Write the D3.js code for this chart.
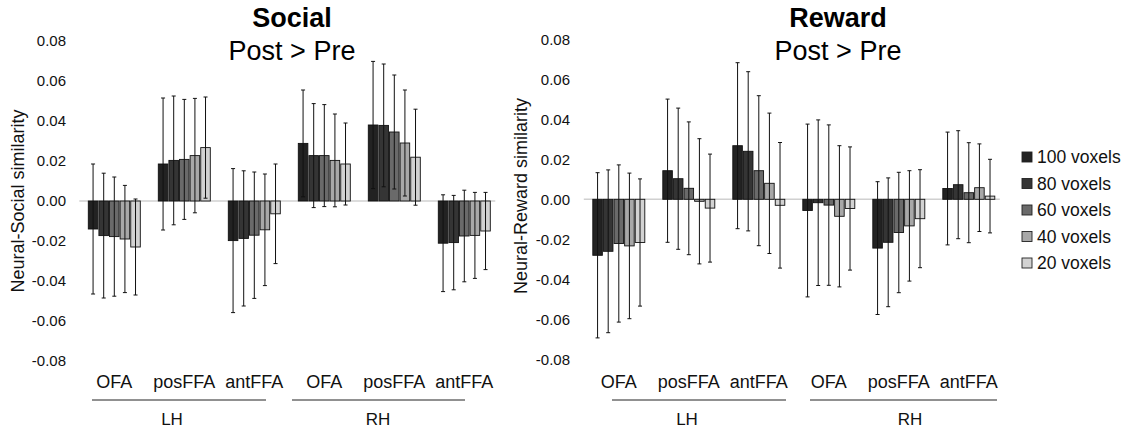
<!DOCTYPE html>
<html>
<head>
<meta charset="utf-8">
<script src="https://cdn.jsdelivr.net/npm/d3@7"></script>
<style>
  html, body { margin: 0; padding: 0; background: #fff; }
  svg { display: block; font-family: "Liberation Sans", Arial, Helvetica, sans-serif; }
</style>
</head>
<body>
<svg id="chart" width="1131" height="431"></svg>
<script>
// ROI labels along the x axis, grouped by hemisphere
const regions = ["OFA", "posFFA", "antFFA", "OFA", "posFFA", "antFFA"];
const hemispheres = ["LH", "RH"];
const seriesNames = ["100 voxels", "80 voxels", "60 voxels", "40 voxels", "20 voxels"];
const seriesColors = ["#222222", "#353535", "#6a6a6a", "#a8a8a8", "#d2d2d2"];
const yTicks = [0.08, 0.06, 0.04, 0.02, 0.00, -0.02, -0.04, -0.06, -0.08];

// Post > Pre change in neural-social similarity (rows: voxel count, cols: ROI)
const socialMeans = [
  [-0.0140, 0.0185, -0.0198, 0.0288, 0.0380, -0.0211],
  [-0.0173, 0.0203, -0.0187, 0.0227, 0.0378, -0.0208],
  [-0.0178, 0.0208, -0.0171, 0.0227, 0.0345, -0.0175],
  [-0.0190, 0.0227, -0.0144, 0.0203, 0.0290, -0.0172],
  [-0.0230, 0.0267, -0.0064, 0.0185, 0.0219, -0.0150]
];
const socialErrors = [
  [0.0325, 0.0330, 0.0360, 0.0267, 0.0318, 0.0242],
  [0.0312, 0.0322, 0.0338, 0.0260, 0.0307, 0.0236],
  [0.0298, 0.0300, 0.0316, 0.0255, 0.0285, 0.0229],
  [0.0268, 0.0286, 0.0279, 0.0232, 0.0265, 0.0215],
  [0.0240, 0.0253, 0.0249, 0.0205, 0.0240, 0.0193]
];

// Post > Pre change in neural-reward similarity
const rewardMeans = [
  [-0.0280, 0.0143, 0.0268, -0.0056, -0.0244, 0.0054],
  [-0.0260, 0.0103, 0.0240, -0.0017, -0.0215, 0.0073],
  [-0.0221, 0.0055, 0.0143, -0.0029, -0.0166, 0.0033],
  [-0.0233, -0.0010, 0.0080, -0.0085, -0.0133, 0.0058],
  [-0.0216, -0.0044, -0.0030, -0.0046, -0.0097, 0.0016]
];
const rewardErrors = [
  [0.0413, 0.0358, 0.0415, 0.0432, 0.0332, 0.0282],
  [0.0407, 0.0353, 0.0398, 0.0414, 0.0322, 0.0270],
  [0.0393, 0.0332, 0.0375, 0.0401, 0.0301, 0.0250],
  [0.0364, 0.0313, 0.0351, 0.0353, 0.0276, 0.0219],
  [0.0318, 0.0270, 0.0314, 0.0308, 0.0245, 0.0184]
];

const svg = d3.select("#chart");
const fmt = d => d.toFixed(2);

// Panel geometry
const panels = [
  {
    title: "Social", subtitle: "Post > Pre", yLabel: "Neural-Social similarity",
    means: socialMeans, errors: socialErrors,
    x0: 79.3, x1: 499.3, yTop: 41, yBottom: 361,
    axisX: 66, yLabelX: 17.5, yLabelY: 201, titleX: 292,
    brackets: [{ from: 92, to: 266, labelX: 172 }, { from: 292, to: 465, labelX: 378 }]
  },
  {
    title: "Reward", subtitle: "Post > Pre", yLabel: "Neural-Reward similarity",
    means: rewardMeans, errors: rewardErrors,
    x0: 583.8, x1: 1003.8, yTop: 39.3, yBottom: 359.3,
    axisX: 570, yLabelX: 521, yLabelY: 196, titleX: 838,
    brackets: [{ from: 612, to: 786, labelX: 687 }, { from: 810, to: 997, labelX: 910 }]
  }
];

panels.forEach(p => {
  const g = svg.append("g");
  const idx = d3.range(regions.length);

  const x = d3.scaleBand().domain(idx).range([p.x0, p.x1]).padding(0);
  const xInner = d3.scaleBand().domain(d3.range(seriesNames.length))
    .range([9, x.bandwidth() - 9]).paddingInner(0.1);
  const y = d3.scaleLinear().domain([-0.08, 0.08]).range([p.yBottom, p.yTop]);

  // y axis: labels only
  const yAxis = g.append("g")
    .attr("transform", `translate(${p.axisX},0)`)
    .call(d3.axisLeft(y).tickValues(yTicks).tickFormat(fmt).tickSize(0).tickPadding(0));
  yAxis.select(".domain").remove();
  yAxis.selectAll("text")
    .attr("font-size", 15).attr("fill", "#111")
    .attr("font-family", "Liberation Sans, Arial, sans-serif");

  // zero reference line
  g.append("line")
    .attr("x1", p.x0).attr("x2", p.x1 - 4)
    .attr("y1", y(0)).attr("y2", y(0))
    .attr("stroke", "#d0d0d0").attr("stroke-width", 1.5);

  // bars
  const rows = [];
  p.means.forEach((row, s) => row.forEach((v, r) => rows.push({ s, r, v, e: p.errors[s][r] })));

  g.append("g").selectAll("rect").data(rows).join("rect")
    .attr("x", d => x(d.r) + xInner(d.s))
    .attr("width", xInner.bandwidth())
    .attr("y", d => y(Math.max(0, d.v)))
    .attr("height", d => Math.abs(y(d.v) - y(0)))
    .attr("fill", d => seriesColors[d.s])
    .attr("stroke", "#111").attr("stroke-width", 0.9);

  // error bars
  const eb = g.append("g").attr("stroke", "#111").attr("stroke-width", 1);
  const cx = d => x(d.r) + xInner(d.s) + xInner.bandwidth() / 2;
  eb.selectAll("line.v").data(rows).join("line").attr("class", "v")
    .attr("x1", cx).attr("x2", cx)
    .attr("y1", d => y(d.v + d.e)).attr("y2", d => y(d.v - d.e));
  eb.selectAll("line.t").data(rows).join("line").attr("class", "t")
    .attr("x1", d => cx(d) - 2).attr("x2", d => cx(d) + 2)
    .attr("y1", d => y(d.v + d.e)).attr("y2", d => y(d.v + d.e));
  eb.selectAll("line.b").data(rows).join("line").attr("class", "b")
    .attr("x1", d => cx(d) - 2).attr("x2", d => cx(d) + 2)
    .attr("y1", d => y(d.v - d.e)).attr("y2", d => y(d.v - d.e));

  // ROI labels
  g.append("g").selectAll("text").data(idx).join("text")
    .attr("x", i => x(i) + x.bandwidth() / 2)
    .attr("y", 388)
    .attr("text-anchor", "middle")
    .attr("font-size", 18).attr("fill", "#111")
    .text(i => regions[i]);

  // hemisphere brackets
  p.brackets.forEach((b, h) => {
    g.append("line")
      .attr("x1", b.from).attr("x2", b.to).attr("y1", 400).attr("y2", 400)
      .attr("stroke", "#222").attr("stroke-width", 1);
    g.append("text")
      .attr("x", b.labelX).attr("y", 425)
      .attr("text-anchor", "middle").attr("font-size", 17).attr("fill", "#111")
      .text(hemispheres[h]);
  });

  // y axis title
  g.append("text")
    .attr("transform", `translate(${p.yLabelX},${p.yLabelY}) rotate(-90)`)
    .attr("text-anchor", "middle").attr("dominant-baseline", "central")
    .attr("font-size", 18).attr("fill", "#111")
    .text(p.yLabel);

  // titles
  g.append("text")
    .attr("x", p.titleX).attr("y", 27).attr("text-anchor", "middle")
    .attr("font-size", 27).attr("font-weight", "bold").attr("fill", "#000")
    .text(p.title);
  g.append("text")
    .attr("x", p.titleX).attr("y", 60).attr("text-anchor", "middle")
    .attr("font-size", 27).attr("fill", "#000")
    .text(p.subtitle);
});

// legend
const legend = svg.append("g").attr("transform", "translate(1022,0)");
const ly = d3.scalePoint().domain(seriesNames).range([157, 263]);
legend.selectAll("rect").data(seriesNames).join("rect")
  .attr("x", 0).attr("y", d => ly(d) - 5)
  .attr("width", 10).attr("height", 10)
  .attr("fill", (d, i) => seriesColors[i])
  .attr("stroke", "#222").attr("stroke-width", 0.9);
legend.selectAll("text").data(seriesNames).join("text")
  .attr("x", 15).attr("y", d => ly(d))
  .attr("dominant-baseline", "central")
  .attr("font-size", 17.5).attr("fill", "#111")
  .text(d => d);
</script>
</body>
</html>
